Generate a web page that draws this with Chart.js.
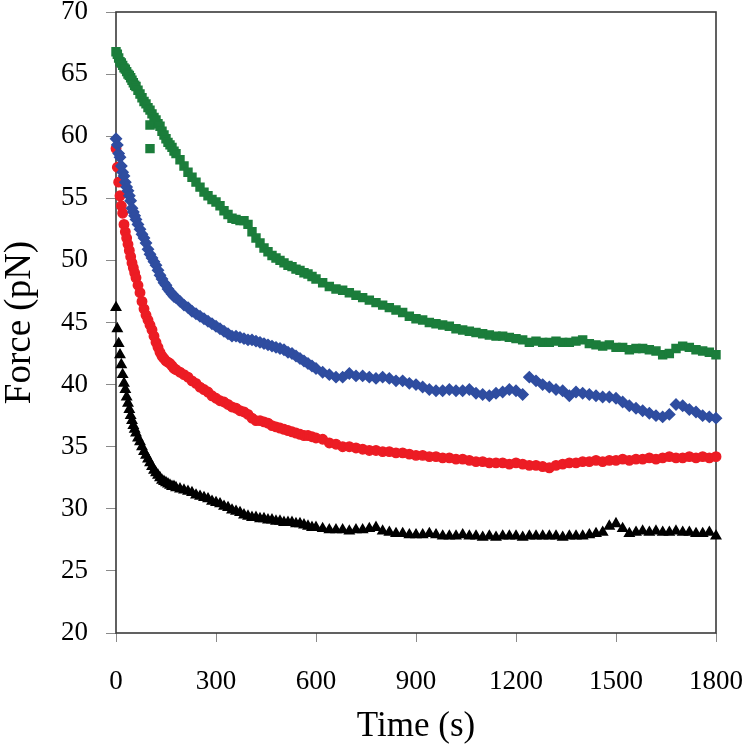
<!DOCTYPE html>
<html>
<head>
<meta charset="utf-8">
<script src="https://cdn.jsdelivr.net/npm/chart.js@4/dist/chart.umd.min.js"></script>
<style>
  html, body { margin: 0; padding: 0; background: #fff; }
  canvas { display: block; }
</style>
</head>
<body>
<canvas id="grafico" width="750" height="752"></canvas>
<script>
// ===== dados =====
const timeS = [
  0, 4, 8, 12, 16, 20, 24, 28, 32, 36, 40, 44, 48, 52, 56, 60,
  66, 72, 78, 84, 90, 96, 102, 108, 114, 120, 126, 132, 138, 144, 150, 156, 162, 168, 174, 180,
  192, 204, 216, 228, 240, 252, 264, 276, 288, 300, 312, 324, 336, 348, 360, 372, 384, 396, 408, 420,
  432, 444, 456, 468, 480, 492, 504, 516, 528, 540, 552, 564, 576, 588, 600,
  620, 640, 660, 680, 700, 720, 740, 760, 780, 800, 820, 840, 860, 880, 900, 920, 940, 960, 980, 1000,
  1020, 1040, 1060, 1080, 1100, 1120, 1140, 1160, 1180, 1200, 1220, 1240, 1260, 1280, 1300,
  1320, 1340, 1360, 1380, 1400, 1420, 1440, 1460, 1480, 1500, 1520, 1540, 1560, 1580, 1600,
  1620, 1640, 1660, 1680, 1700, 1720, 1740, 1760, 1780, 1800
];

const forceGreen = [
  66.8, 66.6, 66.3, 66.0, 65.9, 65.7, 65.5, 65.4, 65.2, 65.0, 64.9, 64.7, 64.5, 64.3, 64.1, 64.0,
  63.7, 63.4, 63.1, 62.8, 62.6, 62.3, 62.1, 61.8, 61.5, 61.3, 61.0, 60.8, 60.4, 60.1, 59.8, 59.5, 59.3, 59.1, 58.8, 58.6,
  58.1, 57.6, 57.1, 56.7, 56.3, 55.9, 55.5, 55.2, 54.9, 54.7, 54.4, 54.0, 53.7, 53.4, 53.3, 53.2, 53.2, 52.9, 52.3, 51.8,
  51.4, 51.0, 50.7, 50.4, 50.2, 50.0, 49.8, 49.6, 49.5, 49.3, 49.2, 49.0, 48.9, 48.7, 48.5,
  48.2, 47.9, 47.7, 47.6, 47.4, 47.2, 47.0, 46.8, 46.6, 46.4, 46.2, 46.0, 45.8, 45.5, 45.3, 45.2, 45.0, 44.9, 44.8, 44.7,
  44.5, 44.4, 44.3, 44.2, 44.1, 44.0, 43.9, 43.9, 43.8, 43.7, 43.6, 43.4, 43.5, 43.4, 43.4,
  43.5, 43.4, 43.4, 43.5, 43.6, 43.3, 43.2, 43.1, 43.2, 43.0, 43.0, 42.8, 42.9, 42.9, 42.8,
  42.7, 42.4, 42.5, 42.9, 43.1, 43.0, 42.8, 42.7, 42.6, 42.4
];
const greenOutlierT = [102, 102];
const greenOutlierF = [60.9, 59.0];

const forceBlue = [
  59.8, 59.3, 58.6, 58.3, 57.6, 57.1, 56.8, 56.3, 55.9, 55.6, 55.2, 54.8, 54.2, 53.9, 53.6, 53.3,
  52.9, 52.5, 52.1, 51.8, 51.4, 50.9, 50.5, 50.2, 49.9, 49.6, 49.2, 48.8, 48.5, 48.2, 48.0, 47.7, 47.5, 47.3, 47.1, 47.0,
  46.7, 46.4, 46.2, 45.9, 45.7, 45.5, 45.3, 45.1, 44.9, 44.7, 44.5, 44.3, 44.1, 43.9, 43.9, 43.8, 43.7, 43.6, 43.6, 43.5,
  43.4, 43.3, 43.2, 43.1, 43.0, 42.9, 42.8, 42.6, 42.5, 42.3, 42.1, 41.9, 41.7, 41.5, 41.3,
  41.0, 40.8, 40.6, 40.6, 40.9, 40.7, 40.7, 40.6, 40.5, 40.6, 40.5, 40.3, 40.3, 40.1, 40.0, 39.8, 39.6, 39.5, 39.5, 39.6,
  39.5, 39.5, 39.6, 39.3, 39.2, 39.1, 39.3, 39.4, 39.6, 39.5, 39.2, 40.6, 40.3, 40.0, 39.8,
  39.6, 39.5, 39.1, 39.4, 39.3, 39.2, 39.1, 39.0, 39.0, 38.9, 38.6, 38.3, 38.1, 37.9, 37.7,
  37.5, 37.4, 37.6, 38.4, 38.3, 38.0, 37.8, 37.5, 37.4, 37.3
];

const forceRed = [
  59.0, 57.5, 56.3, 55.2, 54.4, 53.8, 52.9, 52.3, 51.8, 51.3, 50.8, 50.3, 49.8, 49.4, 49.0, 48.6,
  48.0, 47.4, 46.7, 46.1, 45.6, 45.2, 44.8, 44.4, 43.9, 43.4, 43.0, 42.6, 42.3, 42.1, 41.9, 41.8, 41.7, 41.5, 41.3, 41.2,
  41.0, 40.8, 40.6, 40.3, 40.1, 39.8, 39.6, 39.4, 39.1, 38.9, 38.7, 38.6, 38.4, 38.2, 38.1, 37.9, 37.8, 37.6, 37.3, 37.1,
  37.1, 37.0, 36.9, 36.7, 36.6, 36.5, 36.4, 36.3, 36.2, 36.1, 36.0, 35.9, 35.9, 35.8, 35.7,
  35.6, 35.3, 35.2, 35.0, 35.0, 34.9, 34.8, 34.7, 34.7, 34.6, 34.6, 34.5, 34.5, 34.4, 34.3, 34.3, 34.2, 34.2, 34.1, 34.1,
  34.0, 34.0, 33.9, 33.8, 33.8, 33.7, 33.7, 33.7, 33.6, 33.7, 33.6, 33.5, 33.5, 33.4, 33.3,
  33.5, 33.6, 33.7, 33.7, 33.8, 33.8, 33.9, 33.8, 33.9, 33.9, 34.0, 33.9, 34.0, 34.0, 34.1,
  34.0, 34.1, 34.2, 34.1, 34.1, 34.2, 34.1, 34.2, 34.1, 34.2
];

const forceBlack = [
  46.2, 44.5, 43.3, 42.4, 41.6, 40.8, 40.1, 39.6, 39.0, 38.5, 38.0, 37.5, 37.1, 36.7, 36.4, 36.1,
  35.7, 35.4, 35.0, 34.6, 34.3, 34.0, 33.7, 33.4, 33.1, 32.9, 32.7, 32.5, 32.3, 32.2, 32.1, 32.0, 31.9, 31.8, 31.8, 31.7,
  31.6, 31.5, 31.4, 31.3, 31.1, 31.0, 30.9, 30.8, 30.6, 30.5, 30.4, 30.2, 30.1, 29.9, 29.8, 29.7, 29.5, 29.4, 29.3, 29.3,
  29.2, 29.2, 29.1, 29.1, 29.0, 29.0, 28.9, 28.9, 28.9, 28.8, 28.8, 28.7, 28.6, 28.5, 28.5,
  28.4, 28.3, 28.3, 28.3, 28.2, 28.3, 28.3, 28.4, 28.5, 28.2, 28.1, 28.0, 28.0, 27.9, 27.9, 27.9, 28.0, 27.9, 27.8, 27.8,
  27.8, 27.9, 27.8, 27.8, 27.7, 27.8, 27.7, 27.8, 27.8, 27.8, 27.7, 27.8, 27.8, 27.8, 27.8,
  27.8, 27.7, 27.8, 27.8, 27.8, 27.9, 28.0, 28.1, 28.6, 28.8, 28.4, 28.0, 28.1, 28.2, 28.1,
  28.2, 28.1, 28.1, 28.2, 28.1, 28.1, 28.0, 28.0, 28.1, 27.8
];

const xTicks = [0, 300, 600, 900, 1200, 1500, 1800];
const yTicks = [20, 25, 30, 35, 40, 45, 50, 55, 60, 65, 70];

// ===== helpers =====
const FONTE = "'Liberation Serif', 'Times New Roman', serif";

function pontos(tempos, valores) {
  return tempos.map((t, i) => ({ x: t, y: valores[i] }));
}

function serie(label, data, cor, estilo, raio) {
  return {
    label,
    data,
    showLine: false,
    pointStyle: estilo,
    pointRadius: raio,
    pointHoverRadius: raio,
    backgroundColor: cor,
    borderColor: cor,
    borderWidth: 1.5,
    clip: false
  };
}

// sem folgas extras dos rótulos: a área útil fica só com o layout.padding
function semFolga(s) {
  s.paddingTop = 0;
  s.paddingBottom = 0;
  s.paddingLeft = 0;
  s.paddingRight = 0;
}

// moldura do gráfico (quatro lados)
const moldura = {
  id: "moldura",
  beforeDatasetsDraw(chart) {
    const { ctx, chartArea: a } = chart;
    ctx.save();
    ctx.strokeStyle = "#3a3a3a";
    ctx.lineWidth = 1.6;
    ctx.strokeRect(a.left, a.top, a.right - a.left, a.bottom - a.top);
    ctx.restore();
  }
};

new Chart(document.getElementById("grafico"), {
  type: "scatter",
  data: {
    datasets: [
      serie("green", pontos(timeS, forceGreen).concat(pontos(greenOutlierT, greenOutlierF)), "#1b7d3b", "rect", 5.6),
      serie("blue", pontos(timeS, forceBlue), "#2f4da0", "rectRot", 5.4),
      serie("red", pontos(timeS, forceRed), "#ec1c24", "circle", 4.7),
      serie("black", pontos(timeS, forceBlack), "#000000", "triangle", 5.4)
    ]
  },
  options: {
    responsive: false,
    animation: false,
    layout: { padding: { top: 12, right: 34, bottom: 0, left: 0 } },
    plugins: {
      legend: { display: false },
      tooltip: { enabled: false }
    },
    scales: {
      x: {
        type: "linear",
        min: 0,
        max: 1800,
        afterBuildTicks: s => { s.ticks = xTicks.map(v => ({ value: v })); },
        afterFit: s => { s.height = 119; semFolga(s); },
        ticks: {
          color: "#000",
          padding: 24,
          maxRotation: 0,
          autoSkip: false,
          callback: v => String(v),
          font: { family: FONTE, size: 27, lineHeight: 1.2 }
        },
        grid: { drawOnChartArea: false, drawTicks: true, tickLength: 9, color: "#8a8a8a" },
        border: { display: false },
        title: {
          display: true,
          text: "Time (s)",
          color: "#000",
          padding: { top: 0, bottom: 4 },
          font: { family: FONTE, size: 35, lineHeight: 1.2 }
        }
      },
      y: {
        type: "linear",
        min: 20,
        max: 70,
        afterBuildTicks: s => { s.ticks = yTicks.map(v => ({ value: v })); },
        afterFit: s => { s.width = 116; semFolga(s); },
        ticks: {
          color: "#000",
          padding: 18,
          callback: v => String(v),
          font: { family: FONTE, size: 27, lineHeight: 1 }
        },
        grid: { drawOnChartArea: false, drawTicks: true, tickLength: 10, color: "#8a8a8a" },
        border: { display: false },
        title: {
          display: true,
          text: "Force (pN)",
          color: "#000",
          padding: { top: 0, bottom: 0 },
          font: { family: FONTE, size: 37, lineHeight: 1.1 }
        }
      }
    }
  },
  plugins: [moldura]
});
</script>
</body>
</html>
